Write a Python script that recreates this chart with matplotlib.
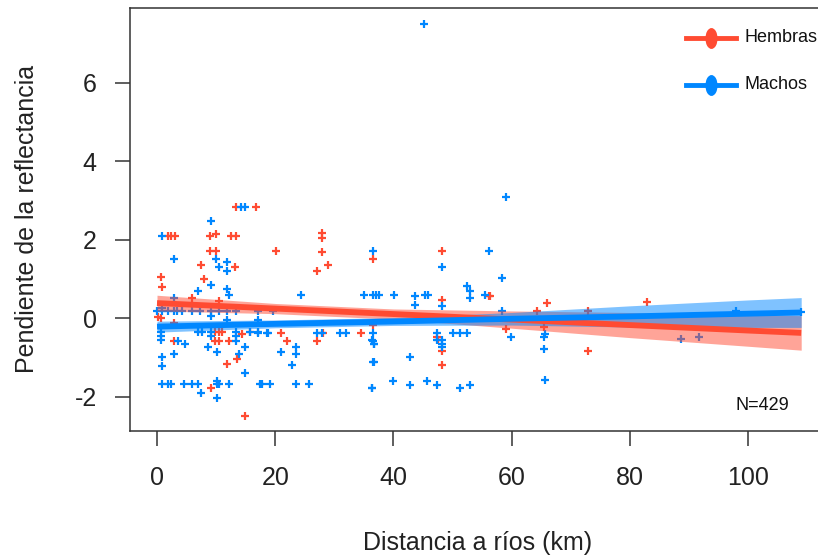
import matplotlib
matplotlib.use("Agg")
import matplotlib.pyplot as plt
import numpy as np
from matplotlib.lines import Line2D
from matplotlib.path import Path
from matplotlib.transforms import Affine2D

plt.rcParams['font.family'] = ['Liberation Sans', 'DejaVu Sans']
plt.rcParams['axes.unicode_minus'] = False

# Scatter points (Hembras = females, Machos = males)
hembras_x = [13.4, 16.8, 1.9, 2.3, 3.0, 9.0, 10.0, 12.6, 13.3, 9.0, 10.0, 7.4, 13.2,
             0.6, 8.0, 0.85, 5.9, 10.5, 0.6, 2.8, 9.8, 10.5, 11.0, 2.8, 9.8, 10.5,
             12.2, 14.3, 15.7, 13.6, 11.8, 9.1, 14.9, 0.2, 27.9, 27.9, 27.9, 20.2,
             27.1, 29.0, 36.6, 21.0, 22.0, 27.1, 28.1, 34.5, 48.3, 48.3, 47.3, 47.5,
             48.3, 48.3, 36.6, 56.2, 56.3, 66.0, 64.3, 59.1, 65.4, 72.9, 72.9, 82.9]
hembras_y = [2.85, 2.85, 2.10, 2.10, 2.10, 2.10, 2.14, 2.10, 2.10, 1.72, 1.72, 1.35, 1.31,
             1.05, 1.01, 0.80, 0.52, 0.44, 0.02, -0.11, -0.35, -0.35, -0.35, -0.57, -0.57, -0.57,
             -0.57, -0.39, -0.35, -1.03, -1.15, -1.78, -2.48, 0.03, 2.18, 2.06, 1.68, 1.72,
             1.22, 1.35, 1.51, -0.36, -0.57, -0.57, -0.36, -0.36, 1.72, 0.48, -0.48, -0.55,
             -0.82, -1.19, -0.18, 0.56, 0.56, 0.39, 0.19, -0.27, -0.23, -0.82, 0.19, 0.43]

machos_x = [14.2, 14.9, 9.1, 0.85, 2.8, 10.0, 11.9, 10.5, 11.9, 9.1, 11.9, 12.2, 6.9, 2.8,
            0.0, 0.85, 1.9, 2.8, 3.3, 4.2, 5.9, 7.3, 9.1, 10.5, 11.9, 13.3, 17.1,
            0.85, 9.1, 11.9, 6.9, 7.6, 9.1, 13.3, 15.7, 17.1, 0.6, 0.6, 0.6, 3.6, 4.7,
            9.1, 13.3, 13.3, 14.9, 8.6, 10.2, 13.8, 2.8, 0.85, 0.85, 14.9,
            0.85, 1.9, 2.3, 4.5, 5.9, 6.9, 10.2, 10.5, 12.2, 17.4, 10.2, 7.4, 10.2,
            36.6, 24.3, 35.0, 36.6, 17.1, 19.7, 17.1, 18.6, 18.8, 27.1, 27.9, 30.9, 32.0,
            36.6, 36.6, 36.7, 23.5, 23.5, 21.0, 22.9, 36.6, 17.7, 19.1, 23.5, 25.7, 36.3,
            48.3, 56.2, 37.0, 37.6, 40.1, 45.3, 45.9, 43.7, 43.7, 52.4, 53.0, 53.0, 55.5,
            48.3, 36.3, 36.7, 47.3, 47.3, 48.3, 48.3, 48.3, 50.0, 51.3, 52.5, 42.8, 36.7,
            40.0, 42.8, 45.6, 47.3, 51.3, 53.0, 36.4, 59.1, 58.3, 58.3, 59.9, 65.4, 65.7,
            65.4, 65.7, 88.6, 91.7, 98.0, 109.0, 45.2]
machos_y = [2.85, 2.85, 2.47, 2.10, 1.51, 1.51, 1.43, 1.31, 1.22, 0.85, 0.76, 0.60, 0.69, 0.52,
            0.19, 0.19, 0.19, 0.19, 0.19, 0.19, 0.19, 0.19, 0.19, 0.19, 0.19, 0.19, 0.19,
            0.27, 0.06, -0.03, -0.35, -0.35, -0.35, -0.35, -0.35, -0.35, -0.35, -0.45, -0.56, -0.57, -0.65,
            -0.45, -0.45, -0.57, -0.73, -0.73, -0.86, -0.90, -0.90, -0.98, -1.22, -1.40,
            -1.68, -1.68, -1.68, -1.68, -1.68, -1.68, -1.68, -1.68, -1.68, -1.68, -1.60, -1.89, -2.02,
            1.72, 0.60, 0.60, 0.60, -0.03, 0.19, -0.36, -0.36, -0.36, -0.36, -0.36, -0.36, -0.36,
            -0.36, -0.57, -0.65, -0.73, -0.90, -0.86, -1.19, -1.10, -1.68, -1.68, -1.68, -1.68, -1.77,
            1.31, 1.72, 0.60, 0.60, 0.60, 0.60, 0.60, 0.56, 0.35, 0.82, 0.69, 0.52, 0.60,
            0.31, -0.56, -0.65, -0.36, -0.56, -0.56, -0.65, -0.73, -0.36, -0.36, -0.36, -0.98, -1.10,
            -1.60, -1.69, -1.60, -1.69, -1.78, -1.69, -1.77, 3.10, 1.02, 0.19, -0.48, -0.48, -0.40,
            -0.77, -1.56, -0.53, -0.48, 0.18, 0.16, 7.50]

# Fitted lines and confidence bands, read at a few distances
fit_x = [0, 20, 40, 60, 80, 100, 109]
hembras_fit = [0.39, 0.25, 0.11, -0.03, -0.17, -0.31, -0.37]
hembras_hw = [0.20, 0.13, 0.13, 0.22, 0.32, 0.40, 0.44]
machos_fit = [-0.21, -0.14, -0.08, -0.01, 0.05, 0.12, 0.15]
machos_hw = [0.14, 0.10, 0.10, 0.16, 0.27, 0.35, 0.38]

red = '#FF4B32'
blue = '#0087FF'

fig = plt.figure(figsize=(8.18, 5.58), dpi=100)
W, H = 818, 558
ax = fig.add_axes([130 / W, (H - 431) / H, 697.8 / W, 423 / H])

ax.plot(hembras_x, hembras_y, '+', color=red, ms=5.5, mew=1.6, zorder=2)
ax.plot(machos_x, machos_y, '+', color=blue, ms=5.5, mew=1.6, zorder=2)

fx = np.array(fit_x)
for fit, hw, c in [(hembras_fit, hembras_hw, red), (machos_fit, machos_hw, blue)]:
    f = np.array(fit)
    h = np.array(hw)
    ax.fill_between(fx, f - h, f + h, color=c, alpha=0.5, lw=0, zorder=3)
ax.plot(fx, hembras_fit, color=red, lw=4.2, zorder=4, solid_capstyle='butt')
ax.plot(fx, machos_fit, color=blue, lw=4.2, zorder=4, solid_capstyle='butt')

ax.set_xlim(-4.57, 113.5)
ax.set_ylim(-2.87, 7.91)
ax.set_xticks([0, 20, 40, 60, 80, 100])
ax.set_yticks([-2, 0, 2, 4, 6])
ax.spines['right'].set_visible(False)
for s in ['left', 'bottom', 'top']:
    ax.spines[s].set_linewidth(1.1)
    ax.spines[s].set_color('#333333')
ax.tick_params(length=11, width=1.1, color='#333333', labelsize=18,
               labelcolor='#222222')
ax.tick_params(axis='x', pad=14)
ax.tick_params(axis='y', pad=13)

fig.text(478 / W, 1 - 543 / H, 'Distancia a ríos (km)', ha='center', va='center',
         fontsize=18, color='#222222')
fig.text(27 / W, 1 - 219 / H, 'Pendiente de la reflectancia', ha='center', va='center',
         rotation=90, fontsize=18, color='#222222')

ax.text(97.8, -2.22, 'N=429', ha='left', va='center', fontsize=13, color='#111111')

# legend drawn by hand, it runs past the right edge
ell = Path.unit_circle().transformed(Affine2D().scale(0.55, 1.0))
for ypx, c, lab in [(38, red, 'Hembras'), (85, blue, 'Machos')]:
    yf = 1 - ypx / H
    fig.add_artist(Line2D([686 / W, 736 / W], [yf, yf], color=c, lw=3.5,
                          transform=fig.transFigure))
    fig.add_artist(Line2D([711 / W], [yf], marker=ell, ms=14, color=c, lw=0,
                          transform=fig.transFigure))
    fig.text(744 / W, yf, lab, ha='left', va='center', fontsize=13, color='#111111')

fig.savefig('out.png', dpi=100)
